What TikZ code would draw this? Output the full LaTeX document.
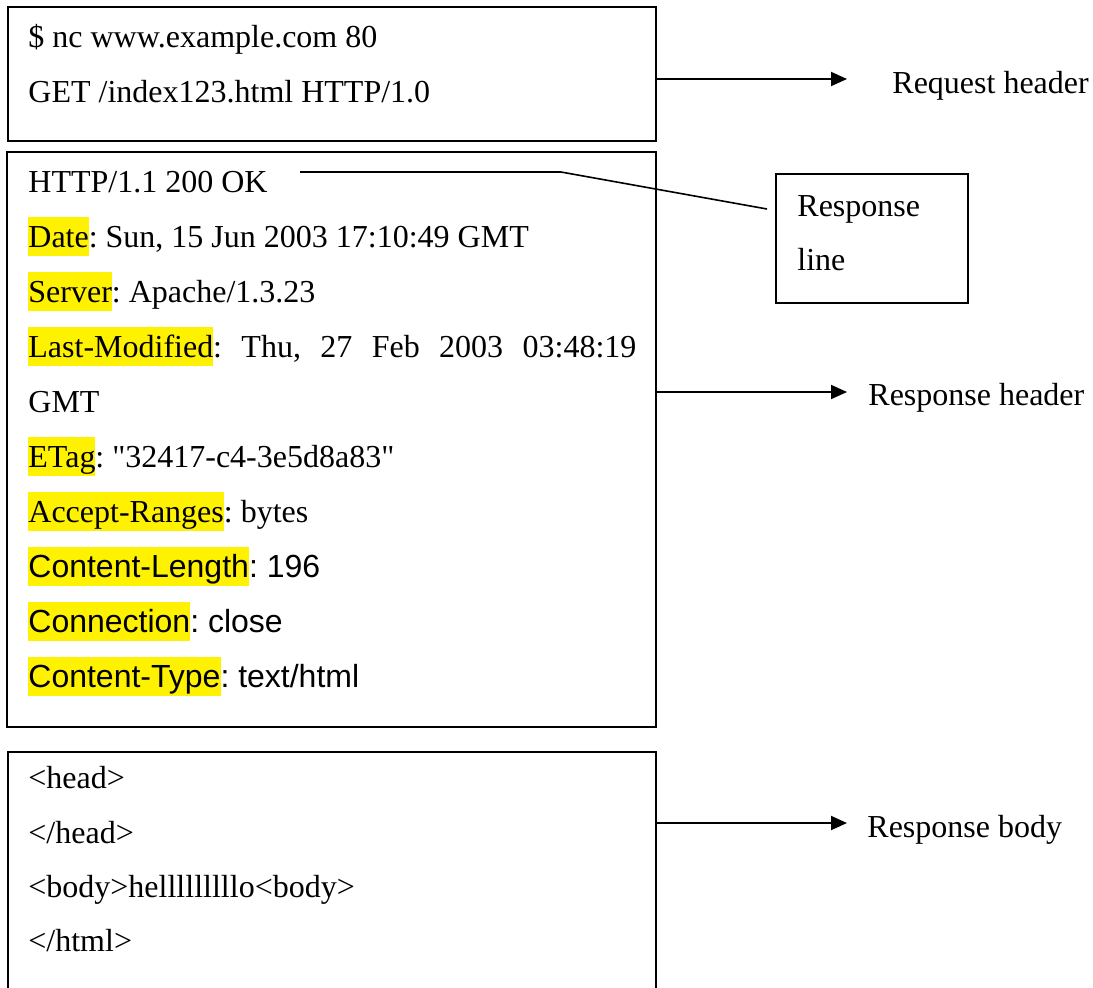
\documentclass[tikz,border=0pt]{standalone}
\usepackage{fontspec}
\setmainfont{Liberation Serif}
\newfontfamily\tnr{Liberation Serif}
\newfontfamily\arialf{Liberation Sans}
\usetikzlibrary{arrows.meta}
\newcommand{\hlt}[1]{{\setlength{\fboxsep}{0pt}\colorbox{yellow}{\rule[-4.5pt]{0pt}{19.5pt}#1}}}
\frenchspacing
\begin{document}
\begin{tikzpicture}[x=0.5pt,y=-0.5pt,
  box/.style={draw, line width=1pt, inner sep=0pt},
  txt/.style={anchor=base west, inner sep=0pt, font=\tnr\fontsize{16}{19}\selectfont},
  arr/.style={line width=1pt, -{Triangle[length=8pt,width=7pt]}},
  link/.style={line width=0.8pt}]
\clip (0,0) rectangle (1093,987);
\fill[white] (0,0) rectangle (1093,987);

% boxes
\node[box, minimum width=324pt, minimum height=67pt] (req) at (332,74) {};
\node[box, minimum width=324.5pt, minimum height=287.5pt] (resp) at (331.5,439.5) {};
\node[box, minimum width=324pt, minimum height=135pt] (body) at (332,887) {};
\node[box, minimum width=96pt, minimum height=64.5pt] (rl) at (872,238.5) {};

% request text
\node[txt] (r1) at (28,47) {\$ nc www.example.com 80};
\node[txt] (r2) at (28,102) {GET /index123.html HTTP/1.0};

% response header text
\node[txt] (h0) at (28,192) {HTTP/1.1 200 OK};
\node[txt] (h1) at (28,247) {\hlt{Date}: Sun, 15 Jun 2003 17:10:49 GMT};
\node[txt] (h2) at (28,302) {\hlt{Server}: Apache/1.3.23};
\node[txt] (h3) at (28,357) {\makebox[304pt][s]{\hlt{Last-Modified}: Thu, 27 Feb 2003 03:48:19}};
\node[txt] (h4) at (28,412) {GMT};
\node[txt] (h5) at (28,467) {\hlt{ETag}: "32417-c4-3e5d8a83"};
\node[txt] (h6) at (28,522) {\hlt{Accept-Ranges}: bytes};
\node[txt] (h7) at (28,577) {\arialf\hlt{Content-Length}: 196};
\node[txt] (h8) at (28,632) {\arialf\hlt{Connection}: close};
\node[txt] (h9) at (28,687) {\arialf\hlt{Content-Type}: text/html};

% body text
\node[txt] (b1) at (28,788) {<head>};
\node[txt] (b2) at (28,843) {</head>};
\node[txt] (b3) at (28,897) {<body>helllllllllo<body>};
\node[txt] (b4) at (28,951) {</html>};

% response line box text
\node[txt] (rl1) at (797,216) {Response};
\node[txt] (rl2) at (797,270) {line};

% side labels
\node[txt] (lreq) at (892,93) {Request header};
\node[txt] (lhdr) at (868,405) {Response header};
\node[txt] (lbody) at (867,837) {Response body};

% connectors
\coordinate (reqtip) at (847,79);
\coordinate (hdrtip) at (847,392);
\coordinate (bodytip) at (847,823);
\draw[arr] (req.east |- reqtip) -- (reqtip);
\draw[arr] (resp.east |- hdrtip) -- (hdrtip);
\draw[arr] (body.east |- bodytip) -- (bodytip);

\coordinate (lnstart) at (300,172);
\coordinate (lnbend) at (561,172);
\coordinate (lnend) at (767,209);
\draw[link] (lnstart) -- (lnbend) -- (lnend);
\end{tikzpicture}
\end{document}
